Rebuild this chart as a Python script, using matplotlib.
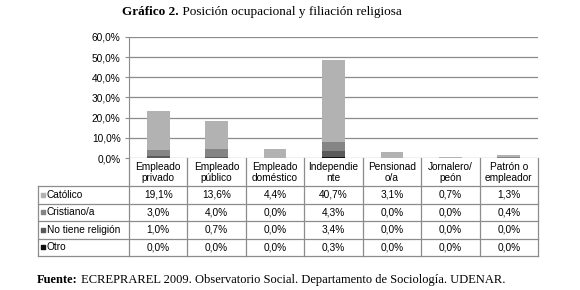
import numpy as np
import matplotlib.pyplot as plt

# Data
categorias = ['Empleado\nprivado', 'Empleado\npúblico', 'Empleado\ndoméstico',
              'Independie\nnte', 'Pensionad\no/a', 'Jornalero/\npeón', 'Patrón o\nempleador']
series = ['Católico', 'Cristiano/a', 'No tiene religión', 'Otro']
catolico = [19.1, 13.6, 4.4, 40.7, 3.1, 0.7, 1.3]
cristiano = [3.0, 4.0, 0.0, 4.3, 0.0, 0.0, 0.4]
sin_religion = [1.0, 0.7, 0.0, 3.4, 0.0, 0.0, 0.0]
otro = [0.0, 0.0, 0.0, 0.3, 0.0, 0.0, 0.0]
colores = ['#b2b2b2', '#858585', '#5a5a5a', '#111111']

W, H = 580, 290
fig = plt.figure(figsize=(W / 100, H / 100), dpi=100)
fig.patch.set_facecolor('white')
fs = 7.3
sans = 'Liberation Sans'

def px(x0, y0, x1, y1):
    return [x0 / W, 1 - y1 / H, (x1 - x0) / W, (y1 - y0) / H]

def pct(v):
    return ('%.1f%%' % v).replace('.', ',')

# Plot area
left, right, top, bottom = 129, 538, 37, 158
ax = fig.add_axes(px(left, top, right, bottom))
n = len(categorias)
x = np.arange(n)
valores = [catolico, cristiano, sin_religion, otro]
base = np.zeros(n)
# stack from bottom: Otro, No tiene religión, Cristiano/a, Católico
for vals, col in zip(valores[::-1], colores[::-1]):
    ax.bar(x, vals, bottom=base, width=0.39, color=col, zorder=3)
    base += np.array(vals)

ax.set_xlim(-0.5, n - 0.5)
ax.set_ylim(0, 60)
ticks = np.arange(0, 61, 10)
ax.set_yticks(ticks)
ax.set_yticklabels([pct(v) for v in ticks], fontsize=fs, family=sans)
ax.set_xticks([])
ax.yaxis.grid(True, color='#8c8c8c', linewidth=0.9, zorder=0)
for s in ['top', 'right', 'bottom']:
    ax.spines[s].set_visible(False)
ax.spines['left'].set_color('#8c8c8c')
ax.tick_params(axis='y', length=3, color='#8c8c8c', pad=3)

# Data table
tleft, tbot = 38, 256
colw = (right - left) / n
lab_w = (left - tleft) / colw
tax = fig.add_axes(px(tleft, bottom, right, tbot))
tax.set_xlim(-lab_w - 0.5, n - 0.5)
tax.set_ylim(tbot - bottom, 0)
tax.axis('off')
lc = '#8c8c8c'
lw = 0.9
head_h = 28
row_h = (tbot - bottom - head_h) / 4
for i in range(n + 1):
    tax.plot([i - 0.5, i - 0.5], [0, tbot - bottom], color=lc, lw=lw, clip_on=False)
tax.plot([-lab_w - 0.5, -lab_w - 0.5], [head_h, tbot - bottom], color=lc, lw=lw,
         clip_on=False)
for r in range(5):
    yy = head_h + r * row_h
    tax.plot([-lab_w - 0.5, n - 0.5], [yy, yy], color=lc, lw=lw, clip_on=False)
for i, c in enumerate(categorias):
    tax.text(i, head_h / 2 + 0.5, c, ha='center', va='center', fontsize=fs,
             family=sans, linespacing=1.1)
for r, (nombre, vals, col) in enumerate(zip(series, valores, colores)):
    yc = head_h + (r + 0.5) * row_h
    tax.scatter([-lab_w - 0.5 + 0.08], [yc], marker='s', s=12, color=col,
                clip_on=False)
    tax.text(-lab_w - 0.5 + 0.15, yc, nombre, ha='left', va='center',
             fontsize=fs, family=sans)
    for i, v in enumerate(vals):
        tax.text(i, yc, pct(v), ha='center', va='center', fontsize=fs, family=sans)

# Title and source
serif = 'Liberation Serif'
t1 = fig.text(122 / W, 1 - 12 / H, 'Gráfico 2.', ha='left', va='center',
              fontsize=9.5, family=serif, fontweight='bold')
fig.add_artist(plt.Annotation(' Posición ocupacional y filiación religiosa',
                              xy=(1, 0.5), xycoords=t1, ha='left', va='center',
                              fontsize=9.5, family=serif))
f1 = fig.text(37 / W, 1 - 280 / H, 'Fuente:', ha='left', va='center', fontsize=9,
              family=serif, fontweight='bold')
fig.add_artist(plt.Annotation(
    ' ECREPRAREL 2009. Observatorio Social. Departamento de Sociología. UDENAR.',
    xy=(1, 0.5), xycoords=f1, ha='left', va='center', fontsize=9, family=serif))

fig.savefig('out.png', dpi=100)
